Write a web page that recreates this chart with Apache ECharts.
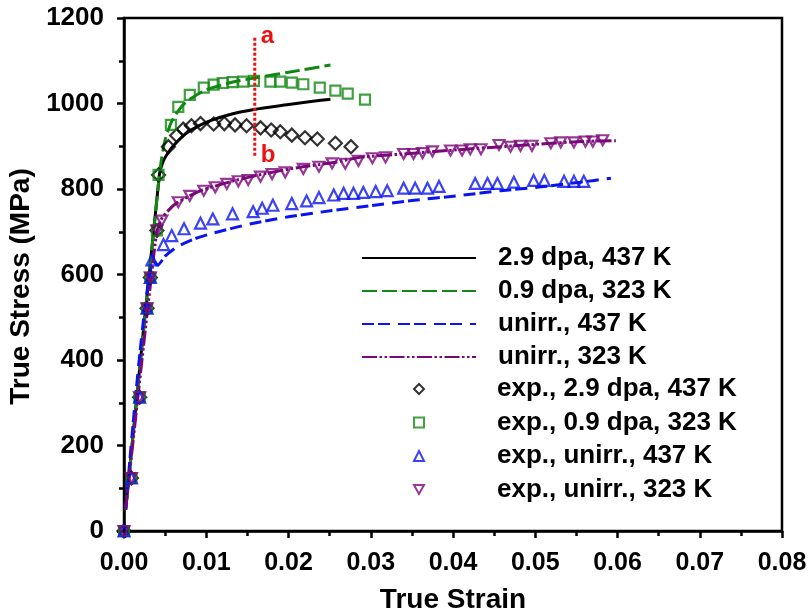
<!DOCTYPE html>
<html>
<head>
<meta charset="utf-8">
<script src="https://cdn.jsdelivr.net/npm/echarts@6/dist/echarts.min.js"></script>
<style>
  html, body { margin: 0; padding: 0; background: #fff; }
  #chart { width: 809px; height: 616px; }
</style>
</head>
<body>
<div id="chart"></div>
<script>
// Simulated true stress-strain curves [strain, stress (MPa)]
const sim29dpa437 = [[0.0002,50],[0.0043,833],[0.0048,866],[0.0054,886],[0.0060,901],[0.0070,921],[0.0080,936],[0.0092,949],[0.0105,960],[0.0130,975],[0.0158,986],[0.0198,997],[0.0225,1004],[0.0251,1010]];
const sim09dpa323 = [[0.0002,50],[0.0043,833],[0.0046,875],[0.0050,915],[0.0058,958],[0.0070,993],[0.0080,1010],[0.0100,1032],[0.0130,1049],[0.0160,1060],[0.0200,1073],[0.0251,1090]];
const simUnirr437 = [[0.0002,50],[0.0036,632],[0.0041,622],[0.0050,643],[0.0064,664],[0.0085,683],[0.0109,697],[0.0153,718],[0.0200,735],[0.0251,749],[0.0300,761],[0.0350,773],[0.0409,785],[0.0458,796],[0.0507,805],[0.0555,816],[0.0592,825]];
const simUnirr323 = [[0.0002,50],[0.0039,690],[0.0045,728],[0.0054,750],[0.0064,767],[0.0080,784],[0.0093,796],[0.0133,819],[0.0174,837],[0.0214,851],[0.0255,862],[0.0287,874],[0.0340,882],[0.0393,890],[0.0474,901],[0.0555,911],[0.0598,913]];

// Experimental points [strain, stress (MPa)]
const exp29dpa437 = [[0,0],[0.0009,124],[0.0019,313],[0.0028,521],[0.0032,593],[0.0040,703],[0.0042,833],[0.0054,899],[0.0064,925],[0.0072,940],[0.0082,948],[0.0093,953],[0.0109,952],[0.0122,953],[0.0135,950],[0.0149,948],[0.0166,943],[0.0179,938],[0.0190,934],[0.0204,926],[0.0220,920],[0.0235,917],[0.0257,907],[0.0276,899]];
const exp09dpa323 = [[0,0],[0.0009,124],[0.0019,313],[0.0028,521],[0.0032,593],[0.0040,703],[0.0042,833],[0.0057,950],[0.0066,992],[0.0080,1020],[0.0097,1037],[0.0109,1044],[0.0120,1048],[0.0132,1050],[0.0145,1051],[0.0158,1053],[0.0178,1051],[0.0190,1051],[0.0204,1049],[0.0218,1045],[0.0238,1037],[0.0257,1030],[0.0272,1023],[0.0293,1009]];
const expUnirr437 = [[0,0],[0.0009,124],[0.0019,313],[0.0028,521],[0.0032,593],[0.0034,634],[0.0048,670],[0.0058,691],[0.0073,707],[0.0093,720],[0.0108,730],[0.0132,742],[0.0157,747],[0.0168,755],[0.0181,762],[0.0204,766],[0.0222,772],[0.0237,780],[0.0255,786],[0.0267,790],[0.0279,790],[0.0291,792],[0.0306,794],[0.0320,796],[0.0340,802],[0.0354,802],[0.0369,802],[0.0383,806],[0.0427,813],[0.0442,813],[0.0454,813],[0.0474,816],[0.0498,820],[0.0511,820],[0.0535,818],[0.0547,818],[0.0559,818]];
const expUnirr323 = [[0,0],[0.0009,124],[0.0019,313],[0.0028,521],[0.0032,593],[0.0040,703],[0.0046,726],[0.0066,769],[0.0080,784],[0.0097,796],[0.0111,804],[0.0125,812],[0.0139,818],[0.0151,821],[0.0166,829],[0.0180,835],[0.0196,839],[0.0218,847],[0.0237,852],[0.0253,860],[0.0269,859],[0.0285,866],[0.0302,872],[0.0318,874],[0.0340,882],[0.0352,882],[0.0363,884],[0.0375,888],[0.0397,890],[0.0411,890],[0.0421,893],[0.0434,893],[0.0456,903],[0.0470,899],[0.0482,901],[0.0496,901],[0.0519,907],[0.0531,909],[0.0547,909],[0.0561,911],[0.0570,911],[0.0582,914]];

// Dotted marker line at a fixed strain, with its end labels
const markerStrain = 0.0159;
const markerStress = [878, 1158];
const markerLabels = ['b', 'a'];

// Axis tick labels
const xTicks = ['0.00','0.01','0.02','0.03','0.04','0.05','0.06','0.07','0.08'];
const yTicks = ['0','200','400','600','800','1000','1200'];

// Legend entries
const lineNames = ['2.9 dpa, 437 K','0.9 dpa, 323 K','unirr., 437 K','unirr., 323 K'];
const markNames = ['exp., 2.9 dpa, 437 K','exp., 0.9 dpa, 323 K','exp., unirr., 437 K','exp., unirr., 323 K'];

const FONT = 'Liberation Sans, Arial, sans-serif';
const legendText = { fontFamily: FONT, fontWeight: 'bold', fontSize: 26, color: '#000', lineHeight: 25 };
const DOWN_TRIANGLE = 'path://M0,0L10,0L5,9Z';

function lineSeries(name, data, color, dash, width) {
  return {
    name, type: 'line', data, symbol: 'none', smooth: 0.25,
    lineStyle: { color, width, type: dash },
    itemStyle: { color },
    z: 3
  };
}
function markSeries(name, data, color, symbol, size) {
  return {
    name, type: 'scatter', data, symbol, symbolSize: size,
    itemStyle: { color: 'rgba(255,255,255,0)', borderColor: color, borderWidth: 2.2 },
    z: 4
  };
}

const chart = echarts.init(document.getElementById('chart'));
chart.setOption({
  animation: false,
  backgroundColor: '#fff',
  grid: { left: 124, right: 27, top: 18, bottom: 85, outerBoundsMode: 'none', containLabel: false,
    show: true, borderColor: '#000', borderWidth: 2.5, backgroundColor: 'transparent' },
  xAxis: {
    type: 'value', min: 0, max: 0.08, interval: 0.01,
    name: 'True Strain', nameLocation: 'middle', nameGap: 55,
    nameTextStyle: { fontFamily: FONT, fontWeight: 'bold', fontSize: 28, color: '#000' },
    axisLine: { show: true, lineStyle: { color: '#000', width: 2.5 } },
    axisTick: { show: true, inside: false, length: 7, lineStyle: { color: '#000', width: 2.5 } },
    minorTick: { show: true, splitNumber: 2, length: 5, lineStyle: { color: '#000', width: 2.5 } },
    splitLine: { show: false },
    axisLabel: { margin: 20, fontFamily: FONT, fontWeight: 'bold', fontSize: 25, color: '#000',
      formatter: v => xTicks[Math.round(v / 0.01)] }
  },
  yAxis: {
    type: 'value', min: 0, max: 1200, interval: 200,
    name: 'True Stress (MPa)', nameLocation: 'middle', nameGap: 86, nameRotate: 90,
    nameTextStyle: { fontFamily: FONT, fontWeight: 'bold', fontSize: 28, color: '#000', padding: [0, 24, 0, 0] },
    axisLine: { show: true, lineStyle: { color: '#000', width: 2.5 } },
    axisTick: { show: true, inside: false, length: 7, lineStyle: { color: '#000', width: 2.5 } },
    minorTick: { show: true, splitNumber: 2, length: 5, lineStyle: { color: '#000', width: 2.5 } },
    splitLine: { show: false },
    axisLabel: { margin: 20, fontFamily: FONT, fontWeight: 'bold', fontSize: 26, color: '#000',
      formatter: v => yTicks[Math.round(v / 200)] }
  },
  legend: [
    {
      orient: 'vertical', left: 356, top: 240,
      itemWidth: 114, itemHeight: 9, itemGap: 7,
      textStyle: Object.assign({ padding: [0, 0, 0, 17] }, legendText),
      data: lineNames.map(name => ({ name, itemStyle: { opacity: 0 } }))
    },
    {
      orient: 'vertical', left: 408, top: 371,
      itemWidth: 10, itemHeight: 10, itemGap: 7.5,
      textStyle: Object.assign({ padding: [0, 0, 0, 68] }, legendText),
      data: [
        { name: markNames[0] },
        { name: markNames[1] },
        { name: markNames[2] },
        { name: markNames[3], icon: DOWN_TRIANGLE }
      ]
    }
  ],
  series: [
    lineSeries(lineNames[0], sim29dpa437, '#000000', 'solid', 3),
    lineSeries(lineNames[1], sim09dpa323, '#118811', [15, 5], 3),
    lineSeries(lineNames[2], simUnirr437, '#0a14f0', [12, 4, 12, 8], 3),
    lineSeries(lineNames[3], simUnirr323, '#7a087a', [15, 2.5, 2.5, 2.5, 2.5, 2.5], 3),
    markSeries(markNames[0], exp29dpa437, '#000000', 'diamond', 13),
    markSeries(markNames[1], exp09dpa323, '#118811', 'rect', 10),
    markSeries(markNames[2], expUnirr437, '#0a14f0', 'triangle', 11),
    markSeries(markNames[3], expUnirr323, '#7a087a', DOWN_TRIANGLE, [11, 10]),
    {
      name: 'marker', type: 'line', symbol: 'circle', symbolSize: 0.1, z: 5,
      data: markerStress.map(s => [markerStrain, s]),
      lineStyle: { color: '#ee1111', width: 3, type: [3, 2] },
      itemStyle: { color: '#ee1111' },
      label: {
        show: true, position: 'right', distance: 6,
        fontFamily: FONT, fontWeight: 'bold', fontSize: 24, color: '#ee1111',
        formatter: p => markerLabels[p.dataIndex]
      }
    }
  ]
});
</script>
</body>
</html>
